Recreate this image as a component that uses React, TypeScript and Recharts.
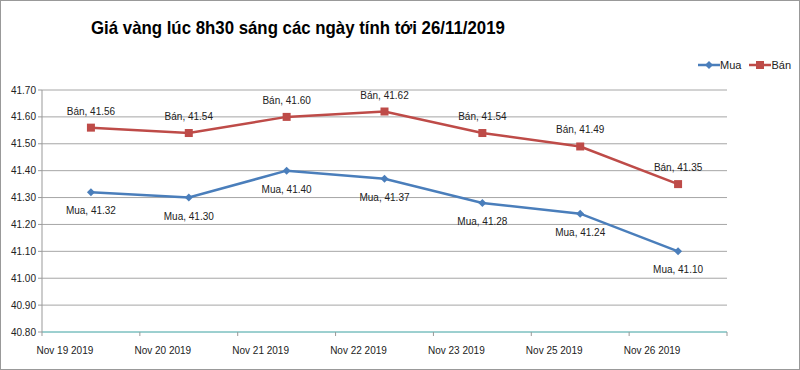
import React from 'react';
import {
  LineChart,
  Line,
  XAxis,
  YAxis,
  CartesianGrid,
  LabelList,
} from 'recharts';

const days = ['Nov 19 2019', 'Nov 20 2019', 'Nov 21 2019', 'Nov 22 2019', 'Nov 23 2019', 'Nov 25 2019', 'Nov 26 2019'];
const mua = [41.32, 41.3, 41.4, 41.37, 41.28, 41.24, 41.1];
const ban = [41.56, 41.54, 41.6, 41.62, 41.54, 41.49, 41.35];
const yTicks = [40.8, 40.9, 41.0, 41.1, 41.2, 41.3, 41.4, 41.5, 41.6, 41.7];

const data = days.map((day, i) => ({ day, Mua: mua[i], Bán: ban[i] }));

const BLUE = '#4a7ebb';
const RED = '#be4b48';
const FONT = '"Liberation Sans", Arial, sans-serif';
const BAND = 685 / days.length;

const XTick = (props: any) => {
  const { x, y, payload } = props;
  return (
    <g>
      <line x1={x - BAND / 2} x2={x - BAND / 2} y1={y - 8} y2={y - 4} stroke="#999" />
      {payload.index === days.length - 1 && (
        <line x1={x + BAND / 2} x2={x + BAND / 2} y1={y - 8} y2={y - 4} stroke="#999" />
      )}
      <text x={x - 26} y={y + 14} textAnchor="middle" fontSize={10} fill="#222" fontFamily={FONT}>
        {payload.value}
      </text>
    </g>
  );
};

const makeLabel = (name: string, dy: number) => (props: any) => {
  const { x, y, value } = props;
  return (
    <text x={x} y={y + dy} textAnchor="middle" fontSize={10} fill="#222" fontFamily={FONT}>
      {`${name}, ${Number(value).toFixed(2)}`}
    </text>
  );
};

const Diamond = (props: any) => {
  const { cx, cy } = props;
  return <path d={`M${cx},${cy - 4}L${cx + 4},${cy}L${cx},${cy + 4}L${cx - 4},${cy}Z`} fill={BLUE} />;
};

const Square = (props: any) => {
  const { cx, cy } = props;
  return <rect x={cx - 4} y={cy - 4} width={8} height={8} fill={RED} />;
};

const LegendBox = () => (
  <div
    style={{
      position: 'absolute',
      right: 8,
      top: 58,
      display: 'flex',
      gap: 8,
      fontFamily: FONT,
      fontSize: 11,
      color: '#222',
    }}
  >
    <span style={{ display: 'flex', alignItems: 'center' }}>
      <svg width={22} height={10}>
        <line x1={0} x2={22} y1={5} y2={5} stroke={BLUE} strokeWidth={2.5} />
        <path d="M11,1L15,5L11,9L7,5Z" fill={BLUE} />
      </svg>
      Mua
    </span>
    <span style={{ display: 'flex', alignItems: 'center' }}>
      <svg width={22} height={10}>
        <line x1={0} x2={22} y1={5} y2={5} stroke={RED} strokeWidth={2.5} />
        <rect x={7} y={1} width={8} height={8} fill={RED} />
      </svg>
      Bán
    </span>
  </div>
);

export default function App() {
  return (
    <div
      style={{
        position: 'absolute',
        left: 0,
        top: 0,
        width: 800,
        height: 370,
        background: '#fff',
        border: '1px solid #999',
        boxSizing: 'border-box',
      }}
    >
      <div
        style={{
          position: 'absolute',
          left: 90,
          top: 16,
          fontFamily: FONT,
          fontWeight: 'bold',
          fontSize: 19,
          color: '#000',
          whiteSpace: 'nowrap',
          transform: 'scaleX(0.885)',
          transformOrigin: 'left center',
        }}
      >
        Giá vàng lúc 8h30 sáng các ngày tính tới 26/11/2019
      </div>
      <LegendBox />
      <LineChart
        width={798}
        height={368}
        data={data}
        margin={{ top: 89, right: 72, bottom: 7, left: 0 }}
        style={{ position: 'absolute', left: 0, top: 0 }}
      >
        <CartesianGrid vertical={false} stroke="#a6a6a6" />
        <XAxis
          dataKey="day"
          stroke="#66cccc"
          tickLine={false}
          tick={<XTick />}
          height={30}
          interval={0}
          padding={{ left: BAND / 2, right: BAND / 2 }}
        />
        <YAxis
          domain={[40.8, 41.7]}
          ticks={yTicks}
          tickFormatter={(v: number) => v.toFixed(2)}
          width={41}
          stroke="#999"
          tickSize={4}
          tick={{ fontSize: 10, fill: '#222', fontFamily: FONT }}
          interval={0}
        />
        <Line
          dataKey="Mua"
          stroke={BLUE}
          strokeWidth={2.5}
          dot={<Diamond />}
          isAnimationActive={false}
        >
          <LabelList dataKey="Mua" content={makeLabel('Mua', 22)} />
        </Line>
        <Line
          dataKey="Bán"
          stroke={RED}
          strokeWidth={2.5}
          dot={<Square />}
          isAnimationActive={false}
        >
          <LabelList dataKey="Bán" content={makeLabel('Bán', -13)} />
        </Line>
      </LineChart>
    </div>
  );
}
